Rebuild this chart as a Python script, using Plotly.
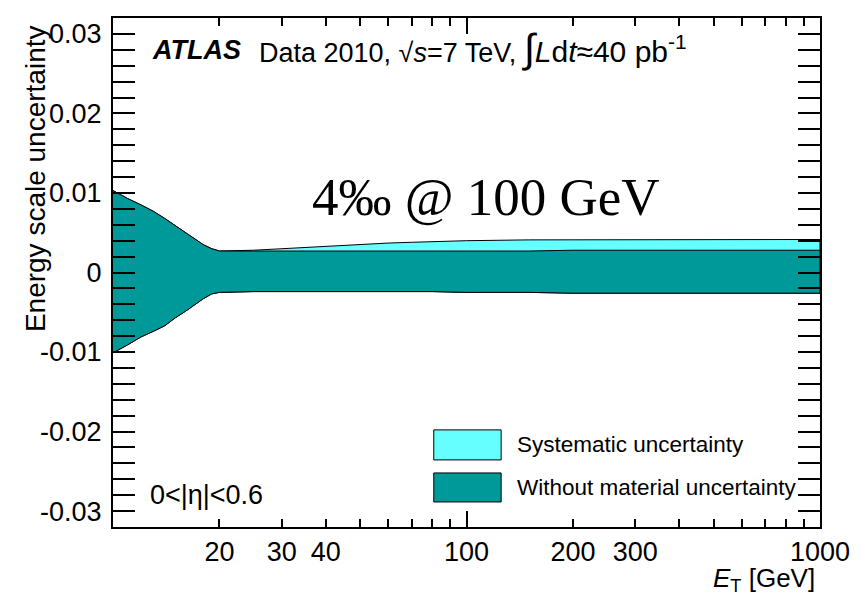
import plotly.graph_objects as go

# Transverse energy grid [GeV]
et = [10, 11, 12, 13, 14, 15, 16, 17, 18, 19, 20,
      25, 30, 40, 50, 60, 70, 80, 100, 150, 200, 300, 500, 700, 1000]

# Full systematic uncertainty: upper edge
syst_up = [0.0103, 0.0093, 0.0085, 0.0077, 0.0068, 0.0059, 0.0051, 0.0043, 0.0035, 0.0030, 0.0027,
           0.0028, 0.0030, 0.0033, 0.0035, 0.0037, 0.0038, 0.0039, 0.0040, 0.0041, 0.0041, 0.0041, 0.0041, 0.00415, 0.00415]

# Uncertainty without the material contribution
nomat_up = [0.0103, 0.0093, 0.0085, 0.0077, 0.0068, 0.0059, 0.0051, 0.0043, 0.0035, 0.0030, 0.0027,
            0.0027, 0.0027, 0.0027, 0.0027, 0.0027, 0.0027, 0.0027, 0.0027, 0.0027, 0.0028, 0.0028, 0.0028, 0.0028, 0.0028]
nomat_dn = [-0.0101, -0.0091, -0.0081, -0.0074, -0.0067, -0.0057, -0.0049, -0.0041, -0.0033, -0.0027, -0.0025,
            -0.0024, -0.0024, -0.0024, -0.0024, -0.0024, -0.0024, -0.0024, -0.0025, -0.0025, -0.0026, -0.0026, -0.0026, -0.0026, -0.0026]

x_labels = [20, 30, 40, 100, 200, 300, 1000]
x_minor = [10, 20, 30, 40, 50, 60, 70, 80, 90, 100, 200, 300, 400, 500, 600, 700, 800, 900, 1000]
x_major = [100]
y_ticks = [-0.03, -0.02, -0.01, 0, 0.01, 0.02, 0.03]
y_ticktext = ["-0.03", "-0.02", "-0.01", "0", "0.01", "0.02", "0.03"]

CYAN = "#66FFFF"
TEAL = "#009999"
FONT = "Liberation Sans, Arial, Helvetica, sans-serif"

fig = go.Figure()

# Systematic band (drawn first, teal band on top)
fig.add_trace(go.Scatter(
    x=et + et[::-1], y=syst_up + nomat_dn[::-1],
    fill="toself", fillcolor=CYAN, mode="lines",
    line=dict(color="black", width=1), hoverinfo="skip", showlegend=False))
fig.add_trace(go.Scatter(
    x=et + et[::-1], y=nomat_up + nomat_dn[::-1],
    fill="toself", fillcolor=TEAL, mode="lines",
    line=dict(color="black", width=1), hoverinfo="skip", showlegend=False))

axis_common = dict(showgrid=False, zeroline=False, showline=True, linecolor="black",
                   linewidth=2, mirror="allticks", ticks="inside", tickcolor="black",
                   tickwidth=1.5, tickfont=dict(family=FONT, size=27, color="black"))

fig.update_layout(
    width=862, height=595,
    margin=dict(l=113, r=37, t=18, b=68),
    paper_bgcolor="white", plot_bgcolor="white",
    showlegend=False,
    xaxis=dict(type="log", range=[1, 3], tickmode="array", tickvals=x_labels,
               ticktext=[str(v) for v in x_labels], ticklen=8,
               minor=dict(tickmode="array", tickvals=x_minor, ticks="inside",
                          ticklen=8, tickcolor="black", tickwidth=1.5),
               **axis_common),
    xaxis2=dict(type="log", range=[1, 3], overlaying="x", tickmode="array",
                tickvals=x_major, ticktext=[""], ticks="inside", ticklen=16,
                tickcolor="black", tickwidth=1.5, showline=False, mirror="allticks",
                showgrid=False, zeroline=False, showticklabels=False),
    yaxis=dict(range=[-0.032, 0.032], tickmode="array", tickvals=y_ticks,
               ticktext=y_ticktext, ticklen=22, ticklabelstandoff=4,
               minor=dict(dtick=0.002, tick0=0, ticks="inside", ticklen=11,
                          tickcolor="black", tickwidth=1.5),
               **axis_common),
)

# invisible point so the overlay axis with the long decade tick is drawn
fig.add_trace(go.Scatter(x=[100], y=[0], xaxis="x2", mode="markers",
                         marker=dict(opacity=0), hoverinfo="skip", showlegend=False))

ann = []
ann.append(dict(text="Energy scale uncertainty", textangle=-90, x=-0.1096, y=0.99,
                xref="paper", yref="paper", xanchor="center", yanchor="top",
                showarrow=False, font=dict(family=FONT, size=28, color="black")))
ann.append(dict(text="<i>E</i><sub>T</sub> [GeV]", x=0.996, y=-0.103,
                xref="paper", yref="paper", xanchor="right", yanchor="middle",
                showarrow=False, font=dict(family=FONT, size=26, color="black")))
ann.append(dict(text="<b><i>ATLAS</i></b>", x=0.052, y=0.938, xref="paper", yref="paper",
                xanchor="left", yanchor="middle", showarrow=False,
                font=dict(family=FONT, size=27, color="black")))
ann.append(dict(text="Data 2010, √<i>s</i>=7 TeV, <span style='font-size:40px'>∫</span>"
                     "<span style='font-size:30px'><i>L</i>d<i>t</i>≈40 pb<sup>-1</sup></span>",
                x=0.2037, y=0.94, xref="paper", yref="paper",
                xanchor="left", yanchor="middle", showarrow=False,
                font=dict(family=FONT, size=27, color="black")))
ann.append(dict(text="4‰ @ 100 GeV", x=0.527, y=0.649, xref="paper", yref="paper",
                xanchor="center", yanchor="middle", showarrow=False,
                font=dict(family="Liberation Serif, Times New Roman, serif", size=53, color="black")))
ann.append(dict(text="0<|η|<0.6", x=0.049, y=0.063, xref="paper", yref="paper",
                xanchor="left", yanchor="middle", showarrow=False,
                font=dict(family=FONT, size=27, color="black")))

legend_items = [("Systematic uncertainty", CYAN, 0.1908, 0.1318),
                ("Without material uncertainty", TEAL, 0.1062, 0.0492)]
shapes = []
for label, col, y1, y0 in legend_items:
    shapes.append(dict(type="rect", xref="paper", yref="paper", x0=0.4537, x1=0.549,
                       y0=y0, y1=y1, fillcolor=col, line=dict(color="black", width=1)))
    ann.append(dict(text=label, x=0.5688, y=(y0 + y1) / 2, xref="paper", yref="paper",
                    xanchor="left", yanchor="middle", showarrow=False,
                    font=dict(family=FONT, size=22.5, color="black")))

fig.update_layout(annotations=ann, shapes=shapes)

fig.write_html("out.html")
